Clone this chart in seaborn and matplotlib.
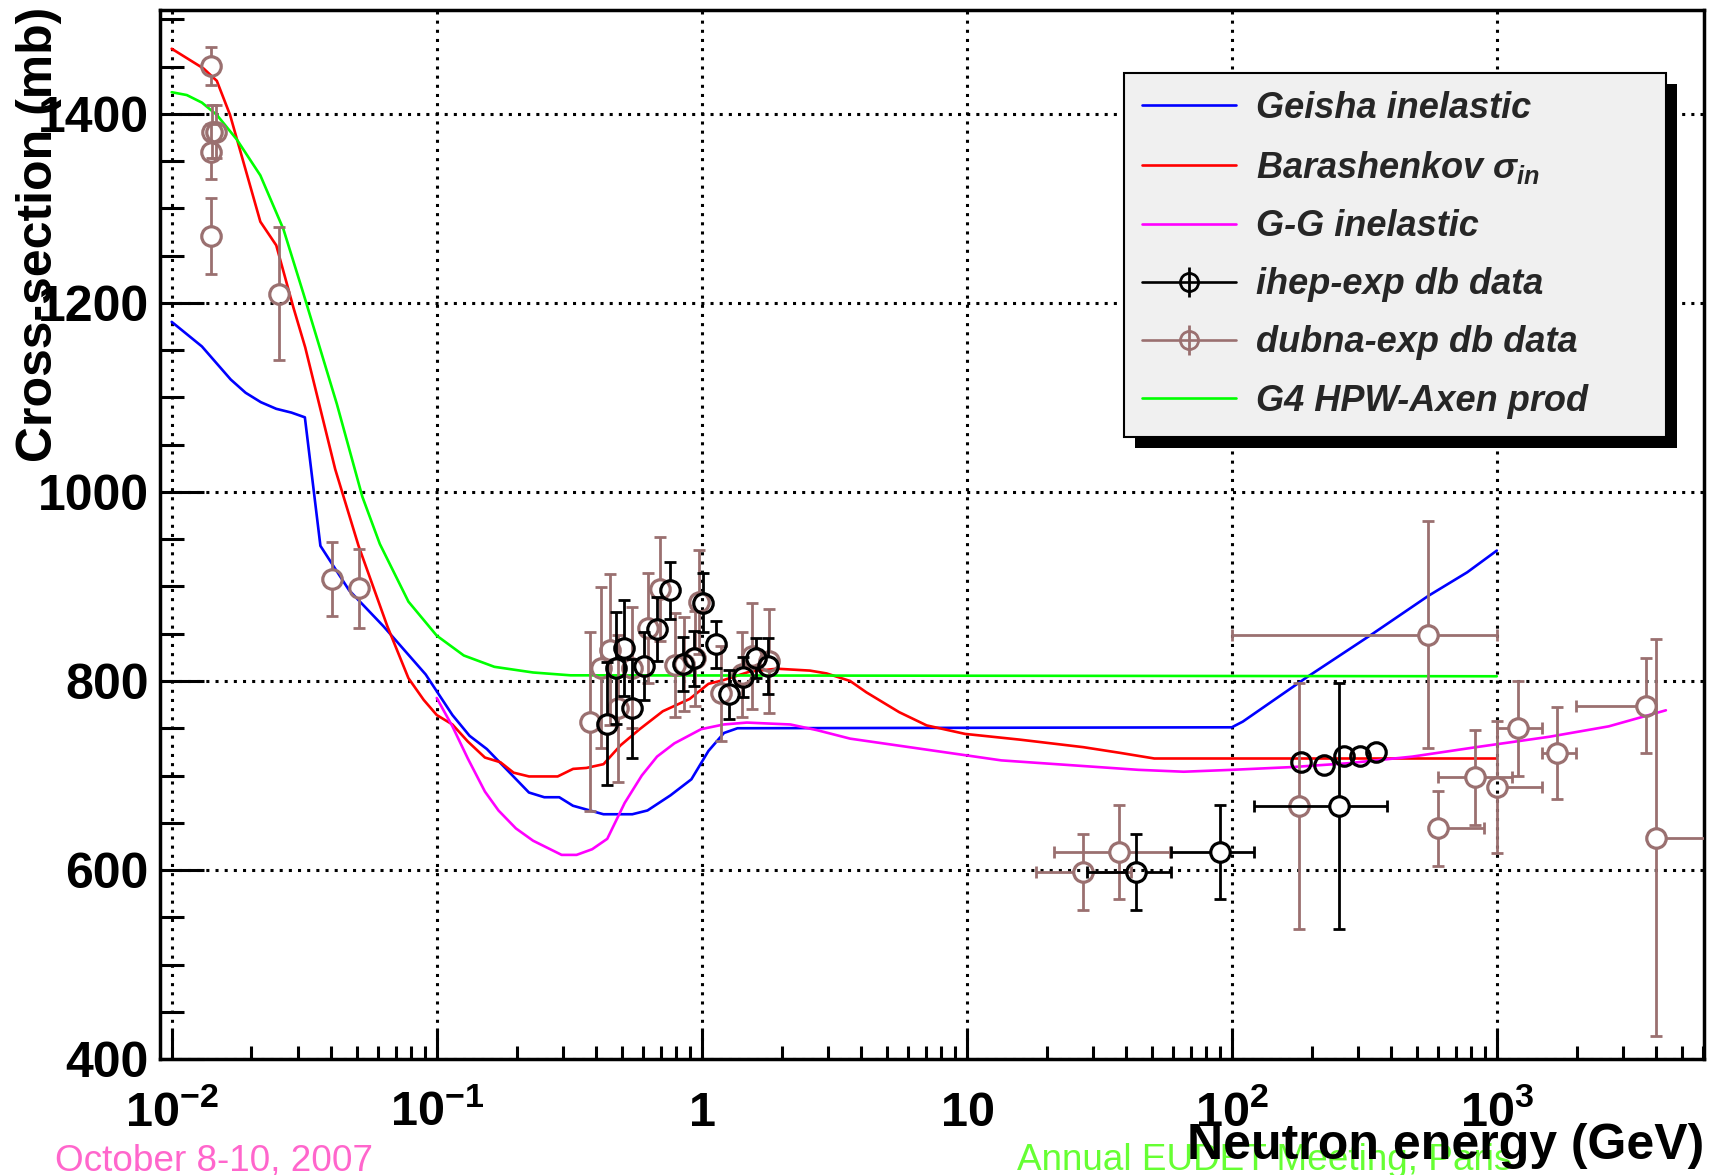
import numpy as np
import pandas as pd
import seaborn as sns
import matplotlib.pyplot as plt
from matplotlib.lines import Line2D
from matplotlib.patches import Rectangle
from matplotlib.ticker import LogLocator, MultipleLocator, NullFormatter

# ---- model curves (energy in GeV, cross-section in mb) ----
geisha_e = [0.01, 0.013, 0.0167, 0.019, 0.0217, 0.0248, 0.0283, 0.0318, 0.0364, 0.0467, 0.0629,
            0.0908, 0.1146, 0.133, 0.1546, 0.2228, 0.2546, 0.29, 0.3266, 0.4257, 0.547, 0.624,
            0.762, 0.914, 1.06, 1.213, 1.364, 100, 110, 192, 336, 551, 773, 1000]
geisha_xs = [1180, 1154, 1119, 1105, 1095, 1088, 1084, 1079, 943, 896, 858,
             807, 764, 742, 728, 682, 677, 677, 668, 659, 659, 663,
             679, 696, 726, 745, 750, 751, 757, 804, 849, 890, 915, 938]

barash_e = [0.01, 0.0132, 0.0148, 0.0166, 0.0216, 0.0248, 0.0288, 0.0319, 0.0414, 0.0507, 0.0651,
            0.0782, 0.0893, 0.1, 0.1146, 0.131, 0.152, 0.174, 0.195, 0.223, 0.286, 0.327, 0.367,
            0.426, 0.494, 0.583, 0.713, 0.9, 1.06, 1.21, 1.52, 1.92, 2.56, 2.96, 3.63, 4.18,
            5.56, 7.06, 9.86, 15.8, 27.5, 37.8, 51, 1000]
barash_xs = [1469, 1448, 1435, 1399, 1286, 1261, 1195, 1153, 1024, 943, 858,
             803, 780, 764, 754, 736, 719, 714, 703, 699, 699, 707, 708,
             712, 732, 749, 768, 781, 797, 801, 810, 813, 811, 808, 800, 788,
             767, 753, 744, 738, 730, 724, 718, 718]

gg_e = [0.1, 0.1146, 0.131, 0.152, 0.171, 0.199, 0.231, 0.296, 0.337, 0.386, 0.44, 0.512,
        0.594, 0.678, 0.788, 0.994, 1.21, 1.48, 2.16, 2.72, 3.63, 13.5, 44.4, 65.9, 100,
        171, 275, 480, 836, 1578, 2643, 4345]
gg_xs = [782, 752, 718, 683, 663, 644, 631, 616, 616, 622, 633, 671,
         700, 720, 734, 749, 754, 756, 754, 748, 739, 716, 706, 704, 706,
         709, 713, 720, 730, 741, 752, 769]

g4_e = [0.01, 0.0114, 0.013, 0.0148, 0.0176, 0.0216, 0.0264, 0.0314, 0.042, 0.0524, 0.061,
        0.0782, 0.1, 0.1265, 0.165, 0.231, 0.32, 1000]
g4_xs = [1423, 1420, 1412, 1399, 1373, 1335, 1278, 1210, 1093, 995, 945,
         884, 848, 827, 815, 809, 806, 805]

# ---- data points ----
ihep_e = [0.44, 0.474, 0.51, 0.547, 0.607, 0.68, 0.759, 0.847, 0.935, 1.01, 1.13, 1.27,
          1.43, 1.6, 1.78, 43.5, 90.6, 254, 182, 222, 264, 304, 349]
ihep_xs = [755, 814, 835, 771, 816, 855, 896, 818, 824, 883, 839, 786,
           804, 824, 816, 598, 619, 668, 714, 711, 721, 721, 725]
ihep_err = [65, 59, 51, 52, 36, 34, 30, 29, 29, 31, 25, 26,
            21, 21, 30, 40, 50, 130, 0, 0, 0, 0, 0]
ihep_elo = [0] * 15 + [15.1, 31.6, 133, 0, 0, 0, 0, 0]
ihep_ehi = [0] * 15 + [15.5, 30.4, 131, 0, 0, 0, 0, 0]

dubna_e = [0.01406, 0.01416, 0.01466, 0.01406, 0.01406, 0.0254, 0.0402, 0.0507,
           0.379, 0.415, 0.45, 0.484, 0.545, 0.625, 0.697, 0.793, 0.855, 0.94, 0.977,
           1.18, 1.415, 1.544, 1.79, 27.5, 37.5, 179, 551, 601, 826, 1000, 1197, 1690,
           3664, 3981]
dubna_xs = [1451, 1381, 1381, 1360, 1271, 1210, 908, 898,
            757, 814, 833, 771, 814, 856, 897, 817, 818, 824, 884,
            787, 807, 826, 821, 598, 619, 668, 849, 644, 698, 688, 750, 724,
            774, 634]
dubna_err = [20, 28, 28, 29, 40, 70, 39, 42,
             95, 85, 80, 78, 64, 58, 55, 55, 50, 50, 55,
             50, 45, 56, 55, 40, 50, 130, 120, 40, 50, 70, 50, 49,
             50, 210]
dubna_elo = [0] * 23 + [9.3, 16.2, 0, 451, 0, 225, 0, 197, 205, 1682, 0]
dubna_ehi = [0] * 23 + [14.1, 21, 0, 449, 296, 314, 485, 288, 292, 0, 2500]

x_major = [0.01, 0.1, 1, 10, 100, 1000]
x_labels = [r"$10^{-2}$", r"$10^{-1}$", r"$1$", r"$10$", r"$10^{2}$", r"$10^{3}$"]
y_major = [400, 600, 800, 1000, 1200, 1400]

sns.set_style("white")
plt.rcParams["font.family"] = ["Liberation Sans", "DejaVu Sans"]
plt.rcParams["mathtext.fontset"] = "custom"
plt.rcParams["mathtext.rm"] = "Liberation Sans:bold"
plt.rcParams["mathtext.it"] = "Liberation Sans:bold:italic"
plt.rcParams["mathtext.bf"] = "Liberation Sans:bold"

BROWN = "#9a7070"
palette = {"Geisha inelastic": "#0000ff", "Barashenkov": "#ff0000",
           "G-G inelastic": "#ff00ff", "G4 HPW-Axen prod": "#00ff00"}

fig = plt.figure(figsize=(17.2, 11.75), dpi=100)
ax = fig.add_axes([0.093, 0.0987, 0.8977, 0.8928])
ax.set_xscale("log")

curves = pd.concat([
    pd.DataFrame({"E": geisha_e, "xs": geisha_xs, "model": "Geisha inelastic"}),
    pd.DataFrame({"E": barash_e, "xs": barash_xs, "model": "Barashenkov"}),
    pd.DataFrame({"E": gg_e, "xs": gg_xs, "model": "G-G inelastic"}),
    pd.DataFrame({"E": g4_e, "xs": g4_xs, "model": "G4 HPW-Axen prod"}),
], ignore_index=True)
sns.lineplot(data=curves, x="E", y="xs", hue="model", palette=palette, sort=False,
             estimator=None, legend=False, linewidth=1.9, ax=ax, zorder=2)

R_MB = 10.0    # open circle radius in mb
R_DEX = 0.036  # open circle radius in decades


def draw_points(e, v, err, elo, ehi, color, z):
    e, v, err = np.asarray(e, float), np.asarray(v, float), np.asarray(err, float)
    elo, ehi = np.asarray(elo, float), np.asarray(ehi, float)
    kw = dict(color=color, lw=2.0, zorder=z)
    cap = dict(color=color, ls="none", mew=2.0, ms=8, zorder=z)
    m = err > R_MB
    ax.vlines(e[m], v[m] + R_MB, v[m] + err[m], **kw)
    ax.vlines(e[m], v[m] - err[m], v[m] - R_MB, **kw)
    ax.plot(e[m], v[m] + err[m], marker="_", **cap)
    ax.plot(e[m], v[m] - err[m], marker="_", **cap)
    f = 10 ** R_DEX
    m = ehi > 0
    ax.hlines(v[m], e[m] * f, e[m] + ehi[m], **kw)
    ax.plot(e[m] + ehi[m], v[m], marker="|", **cap)
    m = elo > 0
    ax.hlines(v[m], e[m] - elo[m], e[m] / f, **kw)
    ax.plot(e[m] - elo[m], v[m], marker="|", **cap)
    ax.plot(e, v, ls="none", marker="o", ms=14, mfc="none", mec=color, mew=2.3, zorder=z + 0.1)


draw_points(dubna_e, dubna_xs, dubna_err, dubna_elo, dubna_ehi, BROWN, 3)
draw_points(ihep_e, ihep_xs, ihep_err, ihep_elo, ihep_ehi, "k", 3.5)

ax.set_xlim(0.00903, 6050)
ax.set_ylim(400, 1510)
ax.set_xlabel("")
ax.set_ylabel("")

ax.set_xticks(x_major)
ax.set_xticklabels(x_labels, fontsize=35)
ax.xaxis.set_minor_locator(LogLocator(base=10, subs=np.arange(2, 10)))
ax.xaxis.set_minor_formatter(NullFormatter())
ax.set_yticks(y_major)
ax.set_yticklabels([str(v) for v in y_major], fontsize=36, fontweight="bold")
ax.yaxis.set_minor_locator(MultipleLocator(50))

ax.tick_params(axis="both", which="both", direction="in", colors="k", width=2.2,
               bottom=True, left=True, top=False, right=False)
ax.tick_params(axis="y", which="major", length=32, pad=8)
ax.tick_params(axis="y", which="minor", length=17)
ax.tick_params(axis="x", which="major", length=22, pad=48)
ax.tick_params(axis="x", which="minor", length=9.5)
for t in ax.xaxis.get_major_ticks():
    t.label1.set_verticalalignment("baseline")

ax.grid(True, which="major", color="k", linestyle=(0, (1, 2)), linewidth=2.2)
ax.set_axisbelow(True)
for s in ax.spines.values():
    s.set_color("k")
    s.set_linewidth(2.5)

handles = [
    Line2D([], [], color="#0000ff", lw=1.9),
    Line2D([], [], color="#ff0000", lw=1.9),
    Line2D([], [], color="#ff00ff", lw=1.9),
    (Line2D([], [], color="k", lw=1.9, marker="o", ms=13, mfc="none", mew=2.0),
     Line2D([], [], color="k", ls="none", marker="|", ms=22, mew=2.0)),
    (Line2D([], [], color=BROWN, lw=1.9, marker="o", ms=13, mfc="none", mew=2.0),
     Line2D([], [], color=BROWN, ls="none", marker="|", ms=22, mew=2.0)),
    Line2D([], [], color="#00ff00", lw=1.9),
]
labels = ["Geisha inelastic", r"Barashenkov $\sigma_{in}$", "G-G inelastic",
          "ihep-exp db data", "dubna-exp db data", "G4 HPW-Axen prod"]
leg = ax.legend(handles, labels, loc="upper left",
                bbox_to_anchor=(0.6244, 0.6015, 0.351, 0.3385), mode="expand",
                borderaxespad=0, prop=dict(size=26, weight="bold", style="italic"),
                handlelength=2.6, handletextpad=0.55, labelspacing=0.64, borderpad=0.5,
                frameon=True, fancybox=False, framealpha=1, edgecolor="k",
                facecolor="#f0f0f0")
leg.get_frame().set_linewidth(1.5)

fig.text(0.032, 0.004, "October 8-10, 2007", color="#ff66cc", fontsize=26.6,
         va="baseline", ha="left")
fig.text(0.591, 0.004, "Annual EUDET Meeting, Paris", color="#66ff33", fontsize=26.6,
         va="baseline", ha="left")
fig.text(0.9907, 0.0136, "Neutron energy (GeV)", color="k", fontsize=36,
         fontweight="bold", ha="right", va="baseline")
fig.text(0.0358, 0.994, "Cross-section (mb)", color="k", fontsize=36, fontweight="bold",
         rotation=90, ha="right", va="top")

fig.canvas.draw()
bb = leg.get_window_extent().transformed(fig.transFigure.inverted())
ax.add_patch(Rectangle((bb.x0 + 11 / 1720, bb.y0 - 11 / 1175), bb.width, bb.height,
                       transform=fig.transFigure, facecolor="k", edgecolor="none",
                       zorder=4.9, clip_on=False))

fig.savefig("out.png", dpi=100)
